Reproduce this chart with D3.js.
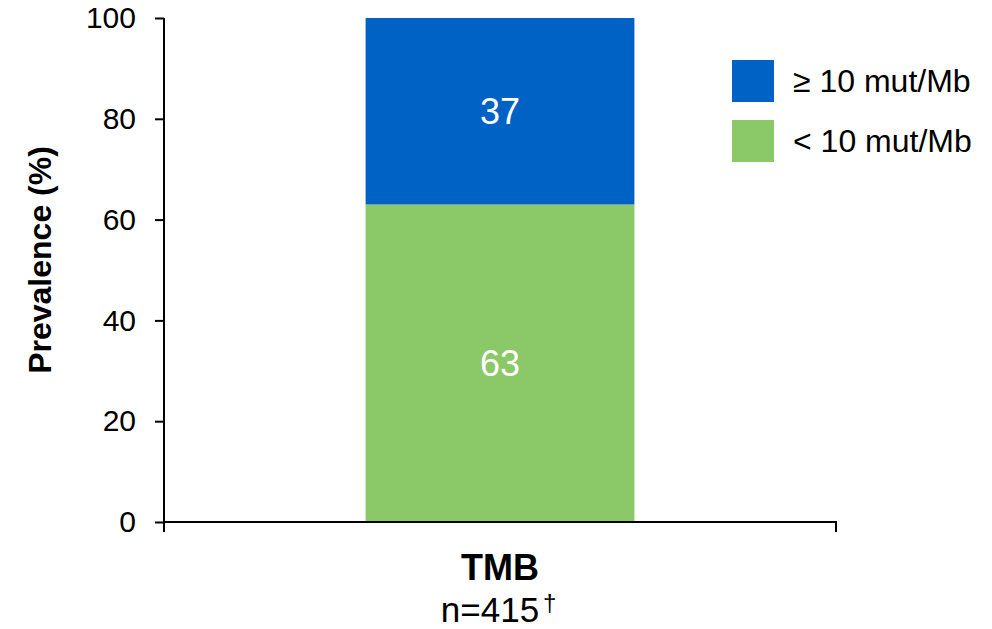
<!DOCTYPE html>
<html>
<head>
<meta charset="utf-8">
<script src="https://cdn.jsdelivr.net/npm/d3@7"></script>
<style>
  body { margin: 0; background: #fff; }
  text { font-family: "Liberation Sans", Arial, sans-serif; }
</style>
</head>
<body>
<div id="chart"></div>
<script>
// data
var categories = ["TMB"];
var seriesNames = ["< 10 mut/Mb", "\u2265 10 mut/Mb"];
var seriesColors = ["#8BC867", "#0062C4"];
var lowValues  = [63];
var highValues = [37];
var yTicks = [0, 20, 40, 60, 80, 100];

var width = 992, height = 629;
var x0 = 164, x1 = 836, yTop = 18, yBot = 522;

var svg = d3.select("#chart").append("svg")
  .attr("width", width)
  .attr("height", height);

var x = d3.scaleBand()
  .domain(categories)
  .range([x0, x1])
  .paddingInner(0.6)
  .paddingOuter(0.3);

var y = d3.scaleLinear()
  .domain([0, 100])
  .range([yBot, yTop]);

var stackData = categories.map(function (c, i) {
  return { cat: c, low: lowValues[i], high: highValues[i] };
});
var stack = d3.stack().keys(["low", "high"])(stackData);

var layers = svg.selectAll("g.layer")
  .data(stack)
  .enter().append("g")
    .attr("class", "layer")
    .attr("fill", function (d, i) { return seriesColors[i]; });

layers.selectAll("rect")
  .data(function (d) { return d; })
  .enter().append("rect")
    .attr("x", function (d) { return x(d.data.cat); })
    .attr("y", function (d) { return y(d[1]); })
    .attr("width", x.bandwidth())
    .attr("height", function (d) { return y(d[0]) - y(d[1]); });

// value labels
layers.selectAll("text")
  .data(function (d) { return d; })
  .enter().append("text")
    .attr("x", function (d) { return x(d.data.cat) + x.bandwidth() / 2; })
    .attr("y", function (d) { return y((d[0] + d[1]) / 2); })
    .attr("dy", "0.35em")
    .attr("text-anchor", "middle")
    .attr("fill", "#fff")
    .style("font-size", "36px")
    .text(function (d) { return d[1] - d[0]; });

// y axis
var yAxis = d3.axisLeft(y)
  .tickValues(yTicks)
  .tickSize(9)
  .tickPadding(19);

var gy = svg.append("g")
  .attr("transform", "translate(" + x0 + ",0)")
  .call(yAxis);
gy.select(".domain").remove();
gy.append("line")
  .attr("x1", 0).attr("x2", 0)
  .attr("y1", yTop).attr("y2", yBot + 10)
  .attr("stroke", "#000").attr("stroke-width", 2);
gy.selectAll(".tick line").attr("stroke", "#000").attr("stroke-width", 2);
gy.selectAll(".tick text")
  .attr("fill", "#000")
  .style("font-size", "30px")
  .style("font-family", "'Liberation Sans', Arial, sans-serif");

// x axis line with end ticks
svg.append("path")
  .attr("d", "M" + x0 + "," + yBot + "H" + x1 + "V" + (yBot + 10))
  .attr("fill", "none")
  .attr("stroke", "#000")
  .attr("stroke-width", 2);

// category labels
categories.forEach(function (c) {
  var cx = x(c) + x.bandwidth() / 2;
  svg.append("text")
    .attr("x", cx)
    .attr("y", 580)
    .attr("text-anchor", "middle")
    .style("font-size", "36px")
    .style("font-weight", "bold")
    .text(c);
  svg.append("text")
    .attr("x", cx - 10)
    .attr("y", 622)
    .attr("text-anchor", "middle")
    .style("font-size", "35px")
    .text("n=415");
  svg.append("text")
    .attr("x", cx + 43)
    .attr("y", 611)
    .style("font-size", "24px")
    .text("\u2020");
});

// y label
svg.append("text")
  .attr("transform", "translate(51," + 260 + ") rotate(-90)")
  .attr("text-anchor", "middle")
  .style("font-size", "32px")
  .style("font-weight", "bold")
  .text("Prevalence (%)");

// legend (top item = high series)
var legendItems = [1, 0];
var lg = svg.selectAll("g.legend")
  .data(legendItems)
  .enter().append("g")
    .attr("class", "legend")
    .attr("transform", function (d, i) { return "translate(732," + (60 + i * 60) + ")"; });
lg.append("rect")
  .attr("width", 42).attr("height", 42)
  .attr("fill", function (d) { return seriesColors[d]; });
lg.append("text")
  .attr("x", 61)
  .attr("y", 21)
  .attr("dy", "0.35em")
  .style("font-size", "32px")
  .text(function (d) { return seriesNames[d]; });
</script>
</body>
</html>
